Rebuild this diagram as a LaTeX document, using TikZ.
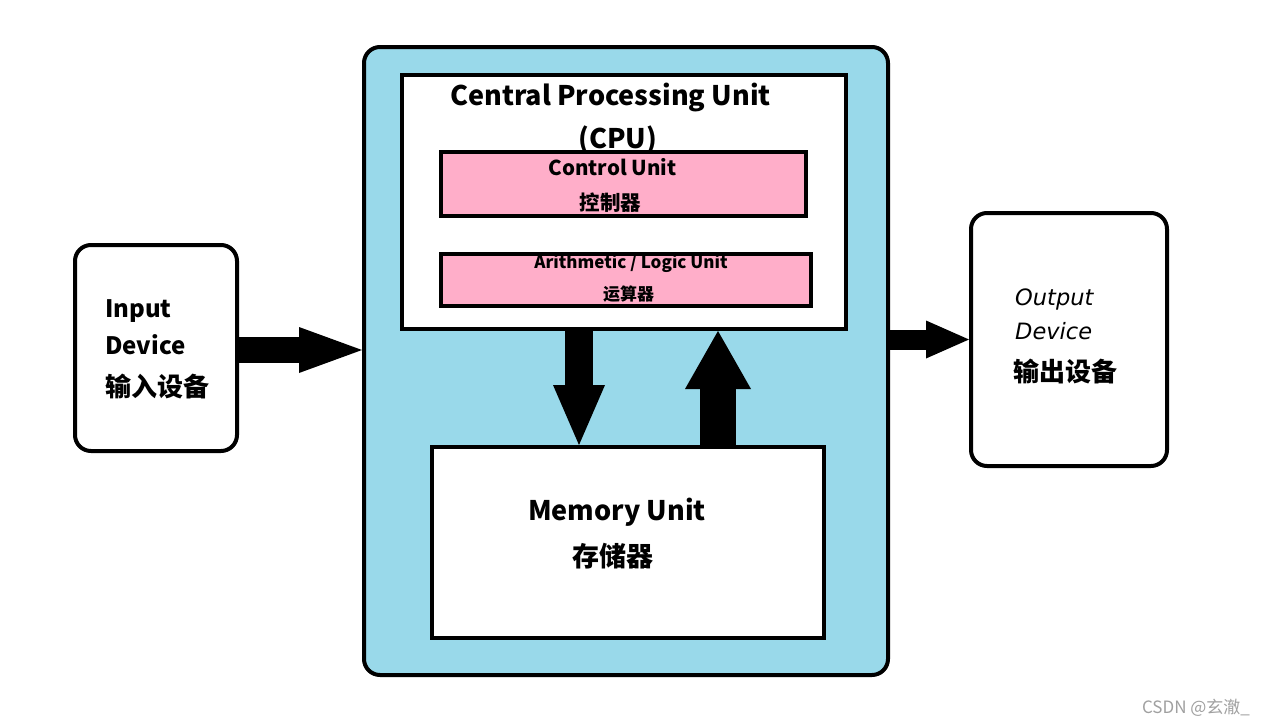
\documentclass[tikz,border=0pt]{standalone}
\usepackage{fontspec}
\setmainfont{Noto Sans CJK SC}
\newfontfamily\obliquefont{DejaVu Sans}
\usetikzlibrary{arrows.meta}
\definecolor{cpublue}{RGB}{153,217,234}
\definecolor{unitpink}{RGB}{255,174,201}
\definecolor{wmgray}{RGB}{160,160,160}
\begin{document}
\begin{tikzpicture}[x=1pt,y=-1pt,
  unit/.style={draw=black,line width=4pt,inner sep=0pt,rectangle},
  rbox/.style={unit,rounded corners=16pt},
  blk/.style n args={3}{line width=#1,-{Triangle[length=#2,width=#3,line width=0pt]}},
  txt/.style={inner sep=0pt,font=\bfseries\fontsize{#1}{#1}\selectfont},
  otxt/.style={inner sep=0pt,font=\obliquefont\itshape\fontsize{#1}{#1}\selectfont}
]
\fill[white] (0,0) rectangle (1272,728);
\useasboundingbox (0,0) rectangle (1272,728);

% CPU
\node[rbox,fill=cpublue,minimum width=524pt,minimum height=628pt] (cpu) at (626,361) {};
\node[unit,fill=white,minimum width=444pt,minimum height=254pt] (cpuin) at (624,202) {};
\node[txt=27,anchor=base] (t1) at (610.5,105) {Central Processing Unit};
\node[txt=27,anchor=base] (t2) at (618,148) {(CPU)};
\node[unit,fill=unitpink,minimum width=365pt,minimum height=64pt] (cu) at (623.5,184) {};
\node[unit,fill=unitpink,minimum width=370pt,minimum height=52pt] (alu) at (626,280) {};
\node[txt=20.5,anchor=base] (cut) at (612.5,175) {Control Unit};
\node[txt=20.5] (cuc) at (610.5,202.5) {控制器};
\node[txt=17,anchor=base] (alut) at (631,268) {Arithmetic / Logic Unit};
\node[txt=17] (aluc) at (628.5,294.5) {运算器};

% Memory
\node[unit,fill=white,minimum width=392pt,minimum height=191pt] (mem) at (628,542.5) {};
\node[txt=27,anchor=base] (memt) at (617,520) {Memory Unit};
\node[txt=27] (memc) at (613,556) {存储器};

% Input / Output
\node[rbox,fill=white,minimum width=162pt,minimum height=206pt] (in) at (156,348) {};
\node[txt=24,anchor=base west] (int1) at (105,317) {Input};
\node[txt=24,anchor=base west] (int2) at (105,354) {Device};
\node[txt=26,anchor=west] (int3) at (105,386) {输入设备};

\node[rbox,fill=white,minimum width=196pt,minimum height=253pt] (out) at (1069,339.5) {};
\node[otxt=22.5,anchor=base west] (ot1) at (1015,305) {Output};
\node[otxt=22.5,anchor=base west] (ot2) at (1015,339) {Device};
\node[txt=26,anchor=west] (ot3) at (1013,371) {输出设备};

% Arrows
\coordinate (inmid) at (0,350);
\coordinate (dnx) at (579,0);
\coordinate (upx) at (718,0);
\draw[blk={26pt}{63pt}{46pt}] (in.east |- inmid) -- (cpu.west |- inmid);
\draw[blk={20pt}{43pt}{38pt}] (cpu.east |- out.west) -- (out.west);
\draw[blk={28pt}{60pt}{52pt}] (cpuin.south -| dnx) -- (mem.north -| dnx);
\draw[blk={36pt}{58pt}{66pt}] (mem.north -| upx) -- (cpuin.south -| upx);

% watermark
\node[inner sep=0pt,font=\fontsize{17}{17}\selectfont,text=wmgray] (wm) at (1196,708) {CSDN @玄澈\_};
\end{tikzpicture}
\end{document}
